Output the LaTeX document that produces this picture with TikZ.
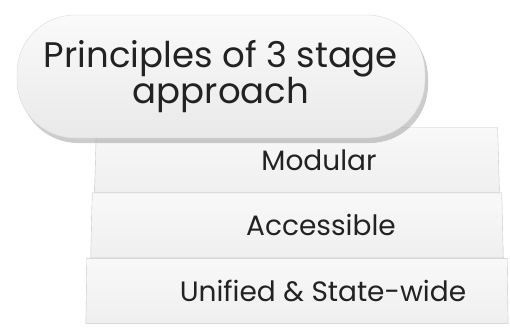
\documentclass[tikz,border=0pt]{standalone}
\usepackage{fontspec}
\setmainfont{Poppins}
\usetikzlibrary{positioning,shapes.geometric,shadows}
\definecolor{boxfill}{HTML}{EFEFEF}
\definecolor{boxline}{HTML}{C8C8C8}
\definecolor{pilltop}{HTML}{FAFAFA}
\definecolor{pillbot}{HTML}{E9E9E9}
\definecolor{inkgray}{HTML}{222222}
\tikzset{
    stage-box/.style = {trapezium, trapezium stretches=true, trapezium left angle=88, trapezium right angle=88,
        draw=boxline, top color=white!60!boxfill, bottom color=boxfill, minimum height=65pt, inner sep=0pt,
        text=inkgray, font=\fontsize{28}{30}\selectfont},
    title-pill/.style = {draw=boxline!70, rectangle, rounded corners=58pt, top color=pilltop, bottom color=pillbot,
        minimum width=408pt, minimum height=123pt, align=center, text=inkgray,
        font=\fontsize{35.5}{32}\selectfont, drop shadow={shadow xshift=3pt, shadow yshift=-5pt, fill=black!40}},
}
\begin{document}
\begin{tikzpicture}
\useasboundingbox (0,0) rectangle (510pt,-327pt);
% the stack of principles
\node [stage-box, minimum width=405pt] (modular) at (297pt,-160pt) {\hspace*{44pt}Modular};
\node [stage-box, minimum width=413pt, below=0pt of modular] (accessible) {\hspace*{48pt}Accessible};
\node [stage-box, minimum width=424pt, below=0pt of accessible] (unified) {\hspace*{52pt}Unified \& State-wide};
% heading on top
\node [title-pill] (title) at (221pt,-76.5pt) {Principles of 3 stage\\approach};
\end{tikzpicture}
\end{document}
